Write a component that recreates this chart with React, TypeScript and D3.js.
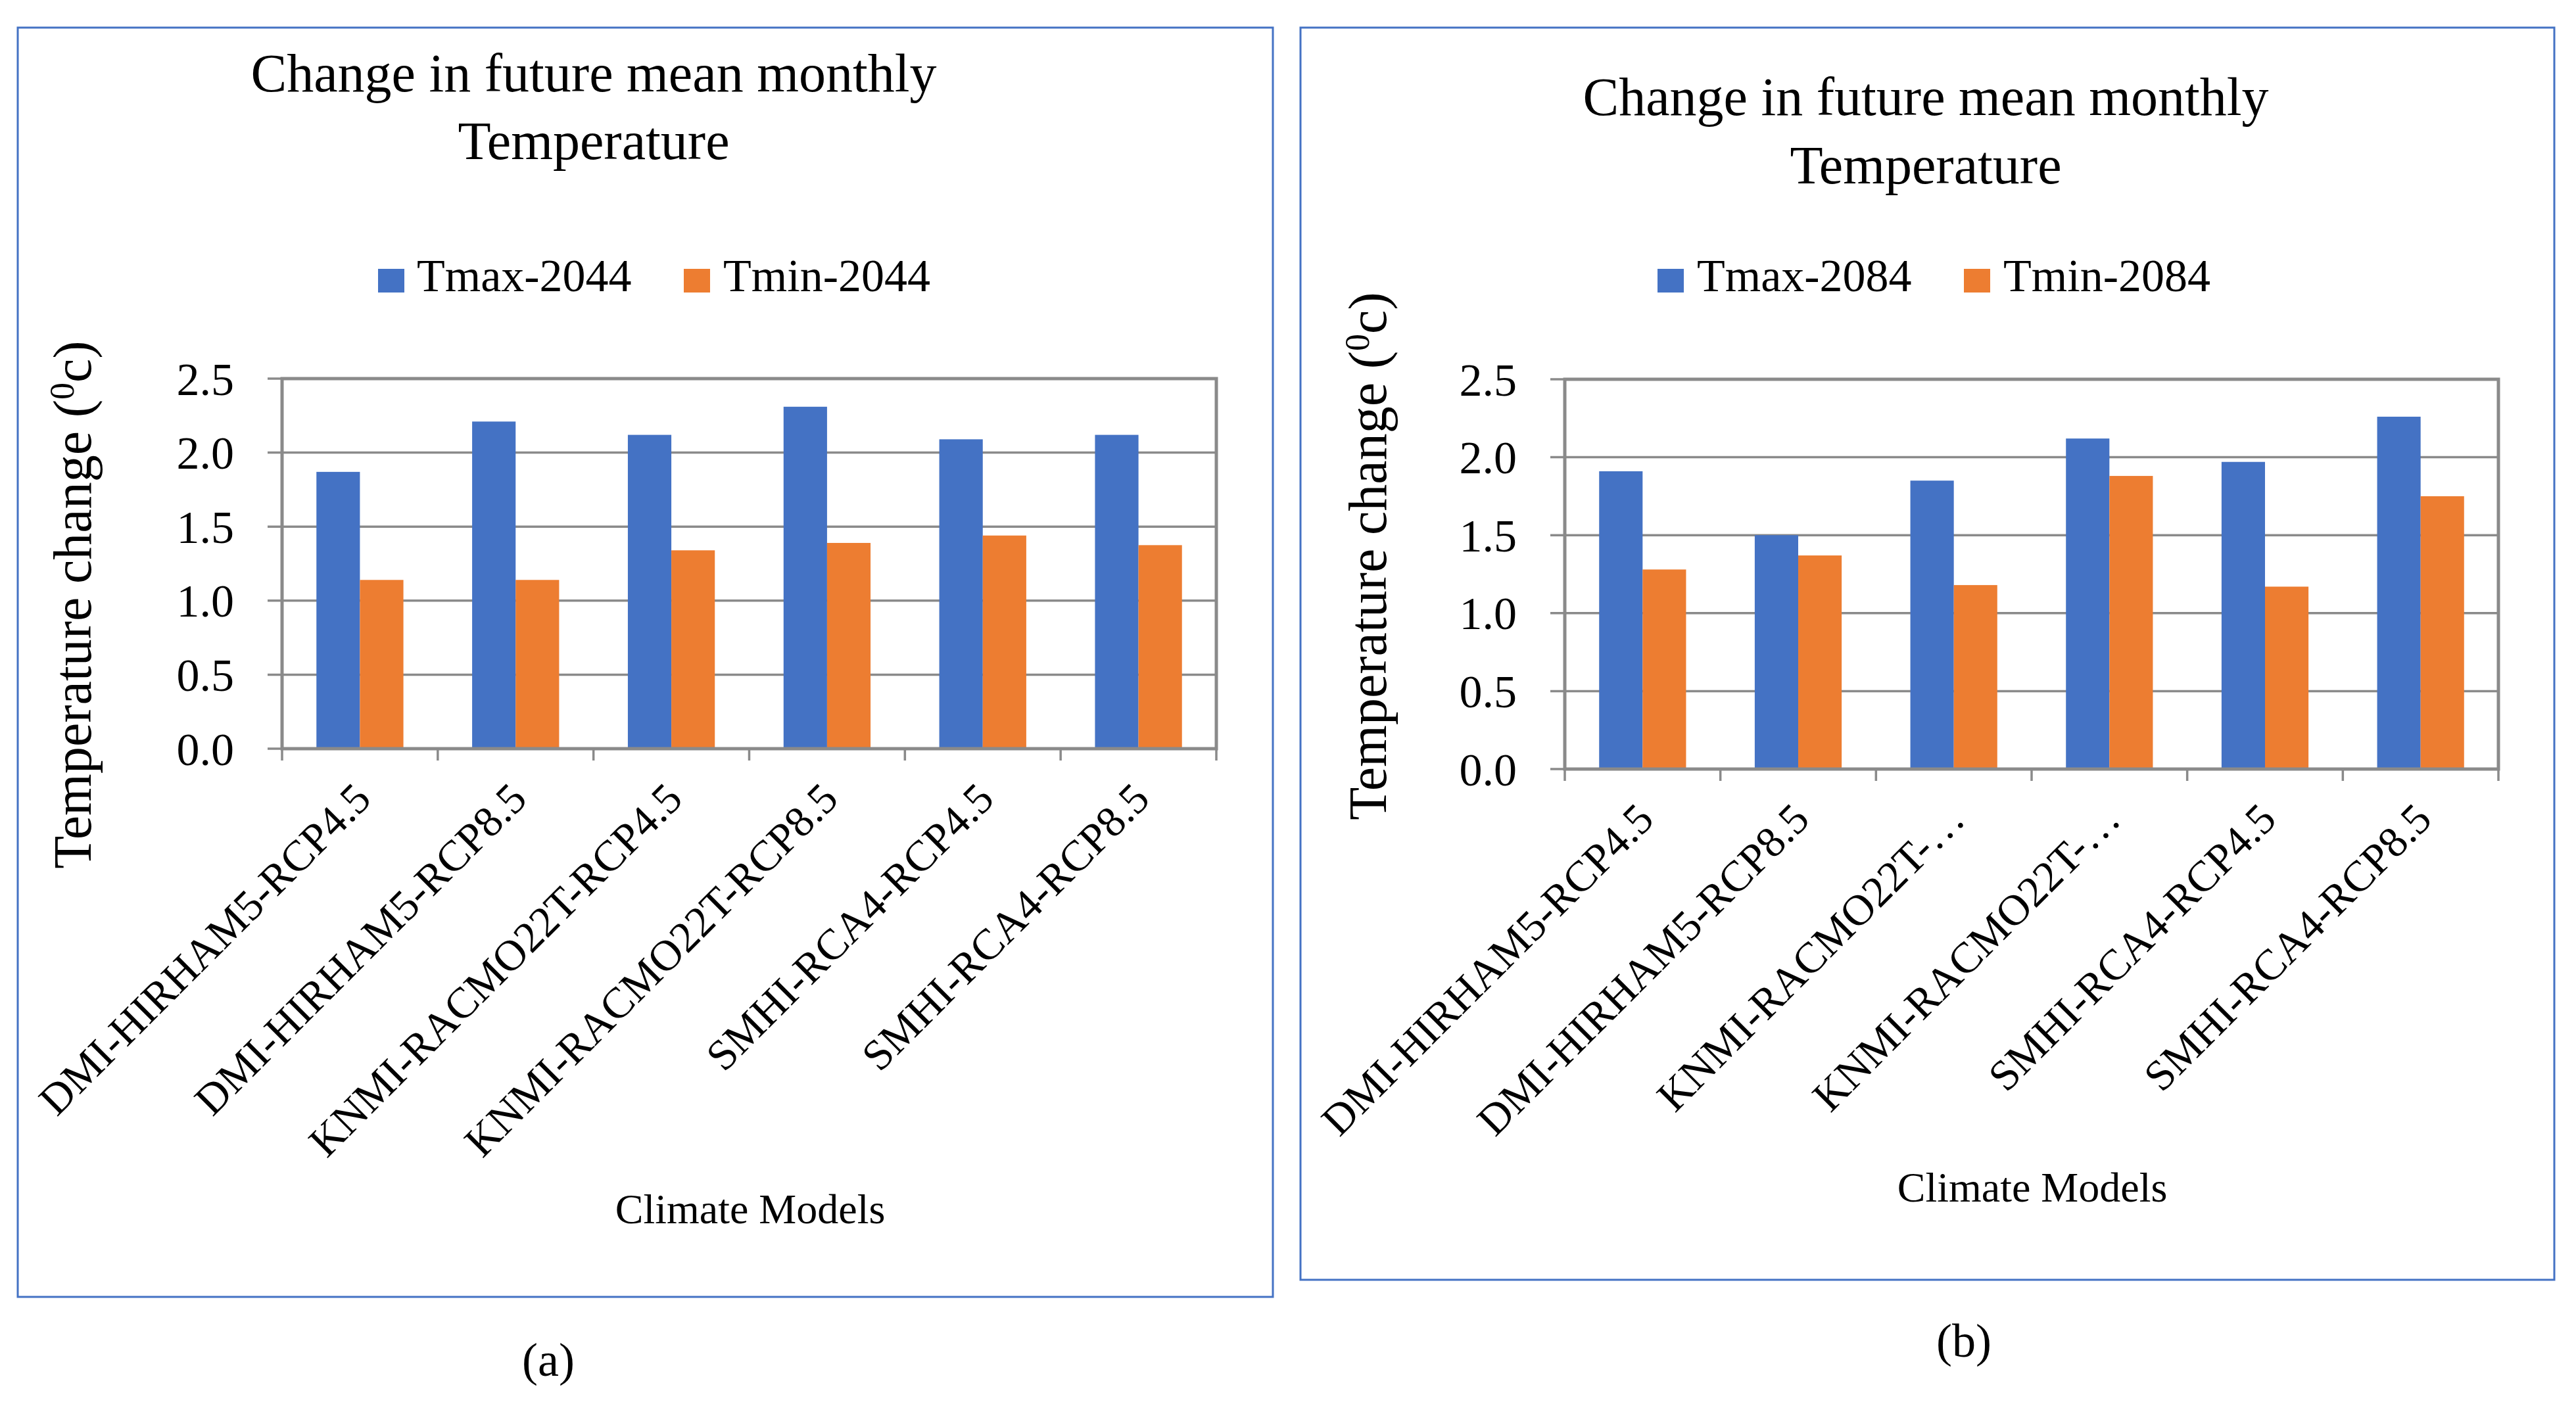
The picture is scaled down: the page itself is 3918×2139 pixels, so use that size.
import React from 'react';
import * as d3 from 'd3';

// climate models (x categories)
const modelsA = [
  'DMI-HIRHAM5-RCP4.5',
  'DMI-HIRHAM5-RCP8.5',
  'KNMI-RACMO22T-RCP4.5',
  'KNMI-RACMO22T-RCP8.5',
  'SMHI-RCA4-RCP4.5',
  'SMHI-RCA4-RCP8.5',
];
const modelsB = [
  'DMI-HIRHAM5-RCP4.5',
  'DMI-HIRHAM5-RCP8.5',
  'KNMI-RACMO22T-…',
  'KNMI-RACMO22T-…',
  'SMHI-RCA4-RCP4.5',
  'SMHI-RCA4-RCP8.5',
];

// values
const tmax2044 = [1.87, 2.21, 2.12, 2.31, 2.09, 2.12];
const tmin2044 = [1.14, 1.14, 1.34, 1.39, 1.44, 1.375];
const tmax2084 = [1.91, 1.5, 1.85, 2.12, 1.97, 2.26];
const tmin2084 = [1.28, 1.37, 1.18, 1.88, 1.17, 1.75];

const yTicks = [0, 0.5, 1.0, 1.5, 2.0, 2.5];
const seriesNamesA = ['Tmax-2044', 'Tmin-2044'];
const seriesNamesB = ['Tmax-2084', 'Tmin-2084'];

const BLUE = '#4472C4';
const ORANGE = '#ED7D31';
const GRID = '#8a8a8a';
const FONT = '"Liberation Serif", "Times New Roman", serif';

interface Layout {
  border: { x: number; y: number; w: number; h: number };
  titleX: number;
  titleY1: number;
  titleY2: number;
  legendY: number;
  legendItems: { sq: number; text: number }[];
  plot: { left: number; right: number; top: number; bottom: number };
  yLabelX: number;
  yTitleX: number;
  yTitleY: number;
  xTitleX: number;
  xTitleY: number;
  captionX: number;
  captionY: number;
  caption: string;
}

interface PanelProps {
  layout: Layout;
  models: string[];
  tmax: number[];
  tmin: number[];
  names: string[];
}

const Panel: React.FC<PanelProps> = ({ layout, models, tmax, tmin, names }) => {
  const { plot } = layout;
  const x0 = d3.scaleBand<number>().domain(d3.range(models.length)).range([plot.left, plot.right]).padding(0);
  const x1 = d3.scaleBand<number>().domain([0, 1]).range([0, x0.bandwidth()]).paddingInner(0).paddingOuter(0.79);
  const y = d3.scaleLinear().domain([0, 2.5]).range([plot.bottom, plot.top]);
  const series = [tmax, tmin];
  const colors = [BLUE, ORANGE];

  // category boundaries for the bottom tick marks
  const bounds = d3.range(models.length + 1).map((i) => plot.left + i * x0.step());

  return (
    <g>
      <rect x={layout.border.x} y={layout.border.y} width={layout.border.w} height={layout.border.h}
        fill="white" stroke={BLUE} strokeWidth={3} />

      <text x={layout.titleX} y={layout.titleY1} textAnchor="middle" fontSize={82} fontFamily={FONT}>
        Change in future mean monthly
      </text>
      <text x={layout.titleX} y={layout.titleY2} textAnchor="middle" fontSize={82} fontFamily={FONT}>
        Temperature
      </text>

      {names.map((n, i) => (
        <g key={n}>
          <rect x={layout.legendItems[i].sq} y={layout.legendY - 34} width={40} height={36} fill={colors[i]} />
          <text x={layout.legendItems[i].text} y={layout.legendY} fontSize={70} fontFamily={FONT}>{n}</text>
        </g>
      ))}

      {/* gridlines + y ticks */}
      {yTicks.map((t) => (
        <g key={t}>
          <line x1={plot.left - 22} x2={plot.right} y1={y(t)} y2={y(t)} stroke={GRID} strokeWidth={3.5} />
          <text x={layout.yLabelX} y={y(t)} dy="0.35em" textAnchor="end" fontSize={70} fontFamily={FONT}>
            {t.toFixed(1)}
          </text>
        </g>
      ))}

      {/* bars */}
      {series.map((vals, si) =>
        vals.map((v, ci) => (
          <rect key={`${si}-${ci}`} x={(x0(ci) ?? 0) + (x1(si) ?? 0)} y={y(v)}
            width={x1.bandwidth()} height={y(0) - y(v)} fill={colors[si]} />
        ))
      )}

      {/* plot frame */}
      <rect x={plot.left} y={plot.top} width={plot.right - plot.left} height={plot.bottom - plot.top}
        fill="none" stroke={GRID} strokeWidth={5} />
      {bounds.map((bx, i) => (
        <line key={i} x1={bx} x2={bx} y1={plot.bottom} y2={plot.bottom + 18} stroke={GRID} strokeWidth={3.5} />
      ))}

      {/* rotated category labels */}
      {models.map((m, i) => {
        const cx = (x0(i) ?? 0) + x0.bandwidth() / 2 + 20;
        const cy = plot.bottom + 80;
        return (
          <text key={i} transform={`translate(${cx},${cy}) rotate(-45)`} textAnchor="end"
            fontSize={66} fontFamily={FONT}>{m}</text>
        );
      })}

      <text transform={`translate(${layout.yTitleX},${layout.yTitleY}) rotate(-90)`} textAnchor="middle"
        fontSize={82} fontFamily={FONT}>
        Temperature change (<tspan fontSize={52} dy={-26}>0</tspan><tspan dy={26}>c)</tspan>
      </text>

      <text x={layout.xTitleX} y={layout.xTitleY} textAnchor="middle" fontSize={64} fontFamily={FONT}>
        Climate Models
      </text>
      <text x={layout.captionX} y={layout.captionY} textAnchor="middle" fontSize={72} fontFamily={FONT}>
        {layout.caption}
      </text>
    </g>
  );
};

const layoutA: Layout = {
  border: { x: 27, y: 42, w: 1909, h: 1931 },
  titleX: 903, titleY1: 139, titleY2: 242,
  legendY: 443,
  legendItems: [{ sq: 575, text: 634 }, { sq: 1040, text: 1100 }],
  plot: { left: 429, right: 1850, top: 576, bottom: 1139 },
  yLabelX: 356,
  yTitleX: 138, yTitleY: 920,
  xTitleX: 1141, xTitleY: 1861,
  captionX: 834, captionY: 2093, caption: '(a)',
};

const layoutB: Layout = {
  border: { x: 1978, y: 42, w: 1907, h: 1905 },
  titleX: 2929, titleY1: 175, titleY2: 279,
  legendY: 443,
  legendItems: [{ sq: 2521, text: 2581 }, { sq: 2987, text: 3047 }],
  plot: { left: 2380, right: 3800, top: 577, bottom: 1170 },
  yLabelX: 2307,
  yTitleX: 2108, yTitleY: 846,
  xTitleX: 3091, xTitleY: 1828,
  captionX: 2987, captionY: 2064, caption: '(b)',
};

export default function App() {
  return (
    <svg width={3918} height={2139} style={{ position: 'absolute', left: 0, top: 0, background: 'white' }}>
      <rect width={3918} height={2139} fill="white" />
      <Panel layout={layoutA} models={modelsA} tmax={tmax2044} tmin={tmin2044} names={seriesNamesA} />
      <Panel layout={layoutB} models={modelsB} tmax={tmax2084} tmin={tmin2084} names={seriesNamesB} />
    </svg>
  );
}
